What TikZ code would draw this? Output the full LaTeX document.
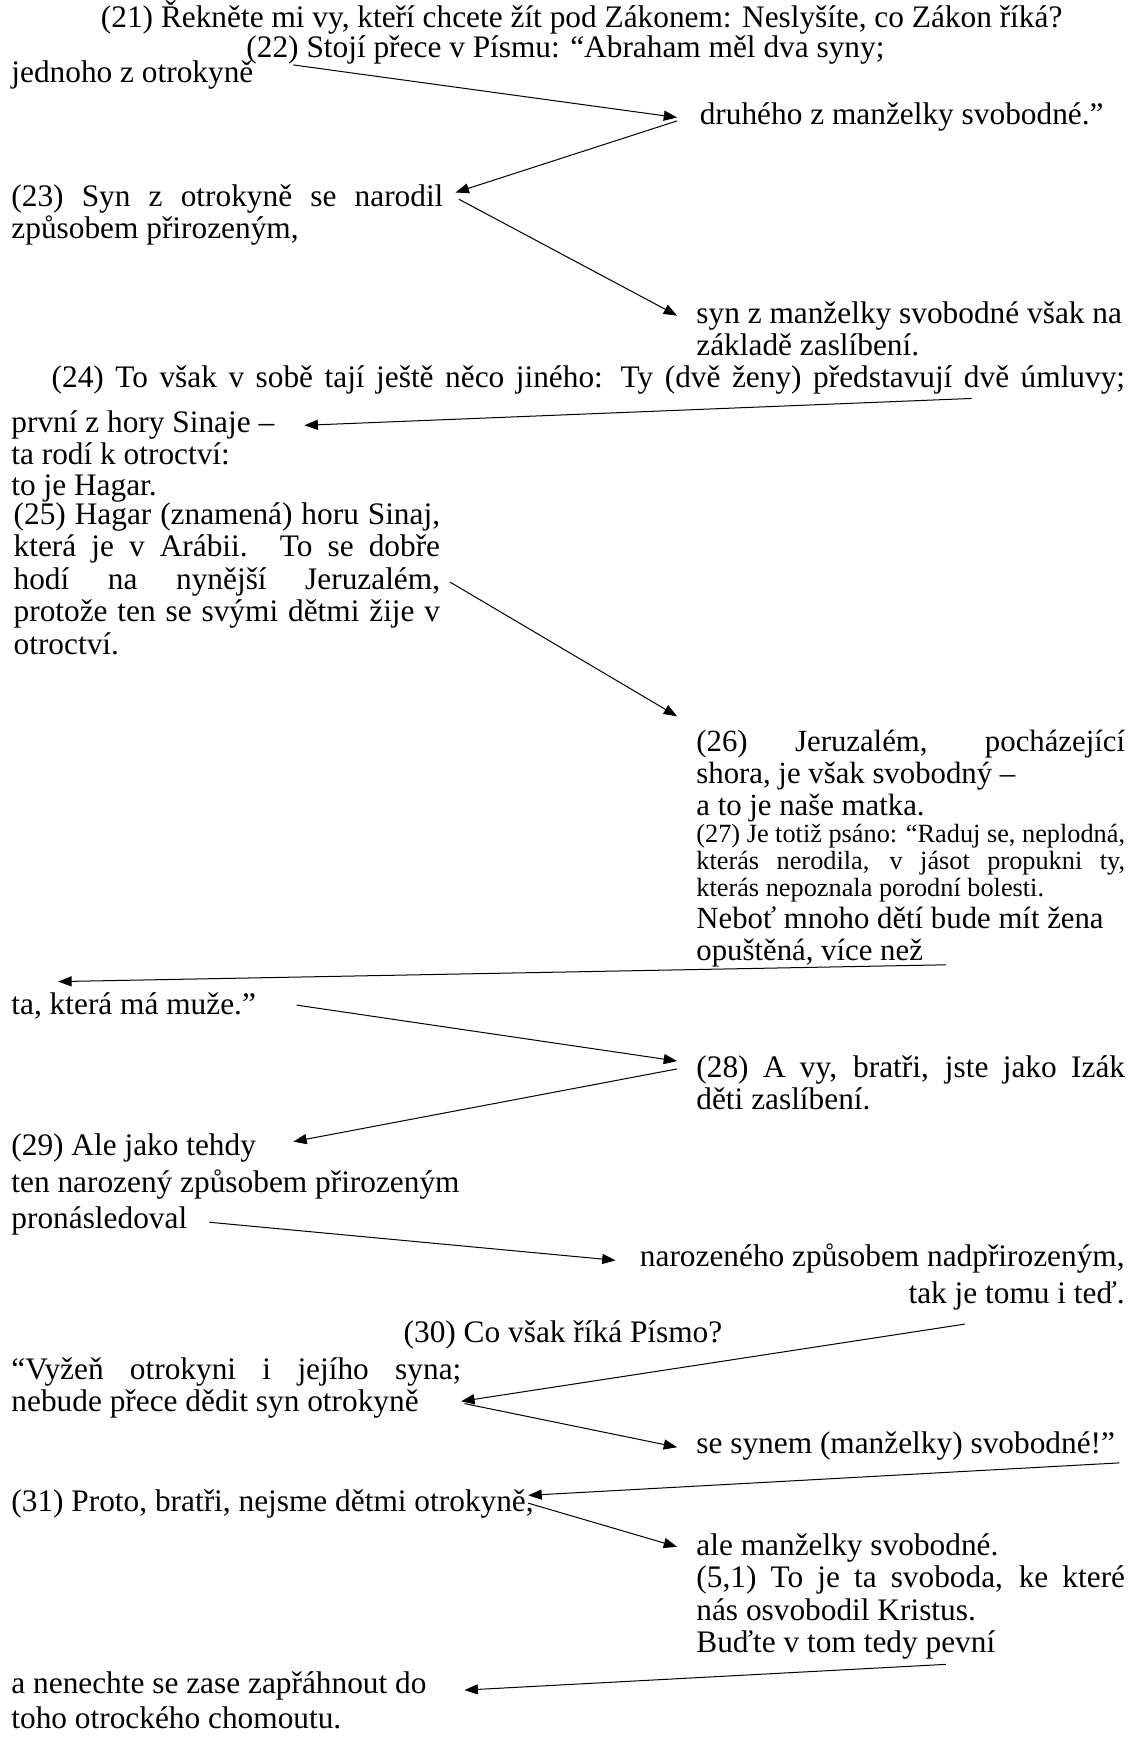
\documentclass[tikz,border=0pt]{standalone}
\usepackage{fontspec}
\setmainfont{Liberation Serif}
\usetikzlibrary{arrows.meta}
\tolerance=10000

\begin{document}
\begin{tikzpicture}[x=1pt,y=-1pt,
    txt/.style={anchor=north west, inner sep=0pt, align=left,
        font=\fontsize{28}{29}\selectfont,
        execute at begin node=\strut},
    line/.style={txt, anchor=base west},
    blk/.style={txt, align=justify, text width=#1},
    full/.style={blk=#1, execute at begin node={\parfillskip=0pt\strut}},
    wide/.style={font=\fontsize{27.5}{28.6}\selectfont},
    arrow/.style={-{Triangle[length=12pt,width=9pt]}, line width=0.9pt}
]
  \useasboundingbox (0,0) rectangle (1015,1568);

  % Verses, left and right column
  \node[line] (v21) at (90,25) {(21) Řekněte mi vy, kteří chcete žít pod Zákonem: Neslyšíte, co Zákon říká?};
  \node[line] (v22) at (220,51) {(22) Stojí přece v Písmu: “Abraham měl dva syny;};
  \node[line] (jednoho) at (10,74) {jednoho z otrokyně};
  \node[line] (druheho) at (625,111) {druhého z manželky svobodné.”};
  \node[blk=386pt] (v23) at (10,164) {(23) Syn z otrokyně se narodil\linebreak způsobem přirozeným,};
  \node[txt] (synz) at (622,269) {syn z manželky svobodné však na\\základě zaslíbení.};
  \node[full=959pt] (v24) at (46,326) {(24) To však v sobě tají ještě něco jiného: Ty (dvě ženy) představují dvě úmluvy;};
  \node[txt, font=\fontsize{28}{28}\selectfont] (prvni) at (10,367) {první z hory Sinaje –\\ta rodí k otroctví:\\to je Hagar.};
  \node[blk=381pt] (v25) at (12,448) {(25) Hagar (znamená) horu Sinaj,\linebreak která je v Arábii. To se dobře\linebreak hodí na nynější Jeruzalém,\linebreak protože ten se svými dětmi žije v\linebreak otroctví.};
  \node[blk=383pt, wide] (v26) at (622,651) {(26) Jeruzalém, pocházející\linebreak shora, je však svobodný –\\a to je naše matka.};
  \node[blk=383pt, font=\fontsize{23.5}{24}\selectfont] (v27) at (622,736) {(27) Je totiž psáno: “Raduj se, neplodná,\linebreak kterás nerodila, v jásot propukni ty,\linebreak kterás nepoznala porodní bolesti.};
  \node[txt, wide] (nebot) at (622,810) {Neboť mnoho dětí bude mít žena\\opuštěná, více než};
  \node[line] (muze) at (10,906) {ta, která má muže.”};
  \node[blk=383pt] (v28) at (622,942) {(28) A vy, bratři, jste jako Izák\linebreak děti zaslíbení.};
  \node[txt, font=\fontsize{28}{32.5}\selectfont] (v29) at (10,1013) {(29) Ale jako tehdy\\ten narozený způsobem přirozeným\\pronásledoval};
  \node[txt, anchor=north east, align=right, font=\fontsize{28}{33}\selectfont] (nadpr) at (1005,1111) {narozeného způsobem nadpřirozeným,\\tak je tomu i teď.};
  \node[line, anchor=base] (v30) at (503,1199) {(30) Co však říká Písmo?};
  \node[blk=402pt] (vyzen) at (10,1212) {“Vyžeň otrokyni i jejího syna;\linebreak nebude přece dědit syn otrokyně};
  \node[line] (synem) at (622,1299) {se synem (manželky) svobodné!”};
  \node[line] (v31) at (10,1350) {(31) Proto, bratři, nejsme dětmi otrokyně,};
  \node[blk=383pt] (ale) at (622,1369) {ale manželky svobodné.\\(5,1) To je ta svoboda, ke které\linebreak nás osvobodil Kristus.\\Buďte v tom tedy pevní};
  \node[txt, font=\fontsize{28}{32}\selectfont] (nenechte) at (10,1493) {a nenechte se zase zapřáhnout do\\toho otrockého chomoutu.};

  % Arrow ends
  \coordinate (a1) at (262,58);   \coordinate (b1) at (605,105);
  \coordinate (a2) at (605,108);  \coordinate (b2) at (407,172);
  \coordinate (a3) at (410,178);  \coordinate (b3) at (605,282);
  \coordinate (a4) at (868,356);  \coordinate (b4) at (272,380);
  \coordinate (a5) at (402,520);  \coordinate (b5) at (605,640);
  \coordinate (a6) at (845,862);  \coordinate (b6) at (52,877);
  \coordinate (a7) at (265,898);  \coordinate (b7) at (605,948);
  \coordinate (a8) at (605,955);  \coordinate (b8) at (262,1020);
  \coordinate (a9) at (187,1092); \coordinate (b9) at (550,1126);
  \coordinate (a10) at (862,1183); \coordinate (b10) at (412,1252);
  \coordinate (a11) at (415,1254); \coordinate (b11) at (605,1293);
  \coordinate (a12) at (1000,1307); \coordinate (b12) at (472,1336);
  \coordinate (a13) at (472,1343); \coordinate (b13) at (605,1382);
  \coordinate (a14) at (845,1487); \coordinate (b14) at (415,1510);

  % Arrows
  \foreach \i in {1,...,14}
    \draw[arrow] (a\i) -- (b\i);

\end{tikzpicture}
\end{document}
